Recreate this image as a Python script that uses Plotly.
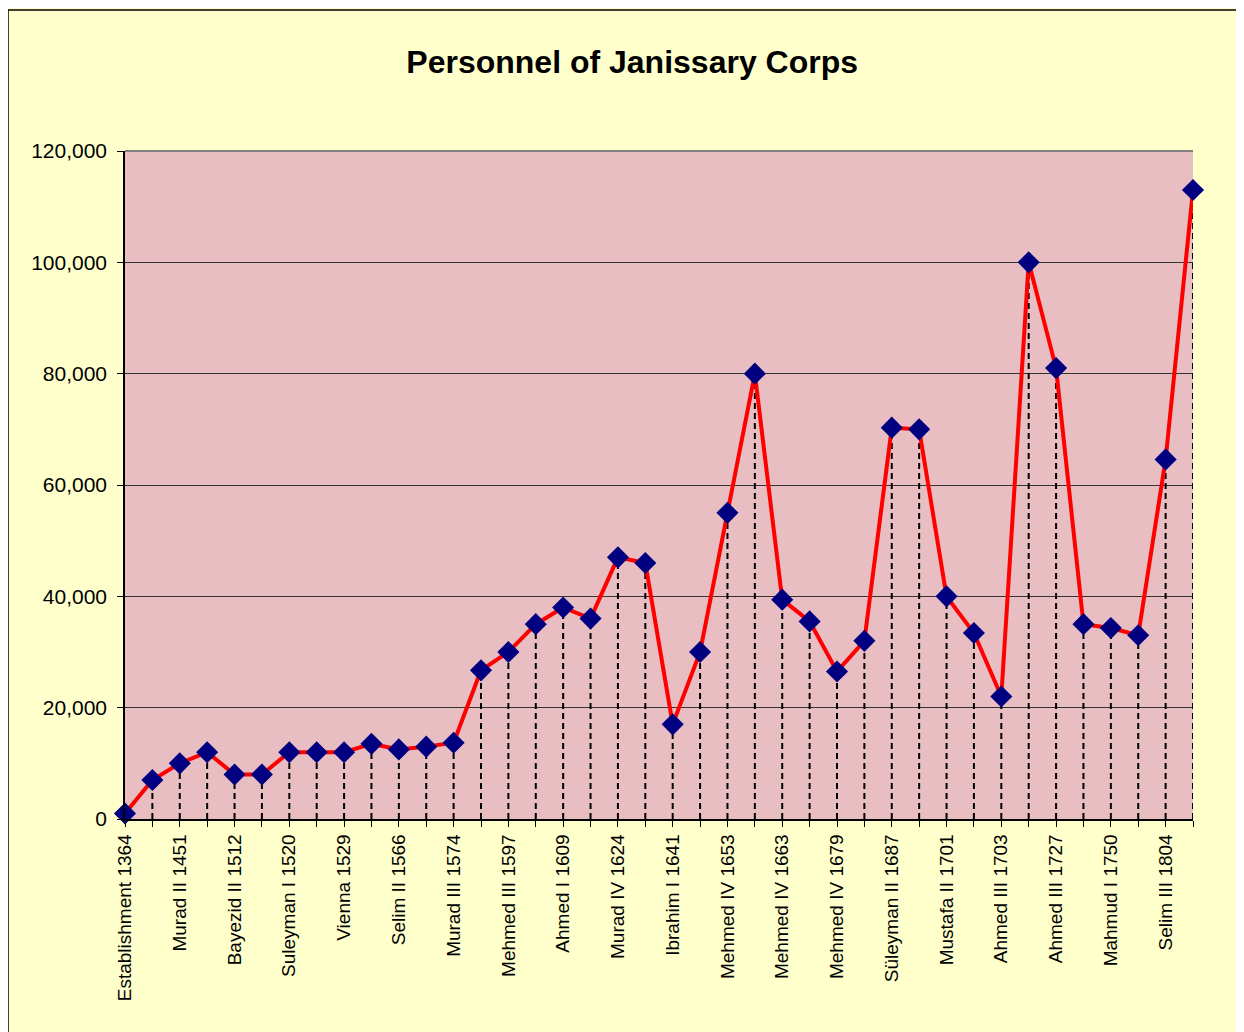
import plotly.graph_objects as go

tick_labels = [
    "Establishment 1364", "Murad II 1451", "Bayezid II 1512", "Suleyman I 1520",
    "Vienna 1529", "Selim II 1566", "Murad III 1574", "Mehmed III 1597",
    "Ahmed I 1609", "Murad IV 1624", "Ibrahim I 1641", "Mehmed IV 1653",
    "Mehmed IV 1663", "Mehmed IV 1679", "Süleyman II 1687", "Mustafa II 1701",
    "Ahmed III 1703", "Ahmed III 1727", "Mahmud I 1750", "Selim III 1804",
]

personnel = [
    1000, 7000, 10000, 12000, 8000, 8000, 12000, 12000, 12000, 13500,
    12500, 13000, 13700, 26700, 30000, 35000, 38000, 36000, 47000, 46000,
    17000, 30000, 55000, 80000, 39400, 35500, 26500, 32000, 70300, 70000,
    40000, 33400, 22000, 100000, 81000, 35000, 34300, 33000, 64600, 113000,
]

x_idx = list(range(len(personnel)))
ticktext = [tick_labels[i // 2] if i % 2 == 0 else "" for i in x_idx]

drop_x, drop_y = [], []
for xi, v in zip(x_idx, personnel):
    drop_x += [xi, xi, None]
    drop_y += [0, v, None]

W, H = 1236, 1024
L, R, T, B = 117, 51, 143, 213
pw, ph = W - L - R, H - T - B

fig = go.Figure()
fig.add_trace(go.Scatter(
    x=drop_x, y=drop_y, mode="lines",
    line=dict(color="black", width=2, dash="6px,4px"),
    hoverinfo="skip", showlegend=False,
))
fig.add_trace(go.Scatter(
    x=x_idx, y=personnel, mode="lines+markers",
    line=dict(color="#FF0000", width=4),
    marker=dict(symbol="diamond", size=17, color="#000080",
                line=dict(width=0)),
    cliponaxis=False, showlegend=False,
))

fig.update_layout(
    width=W, height=H,
    margin=dict(l=L, r=R, t=T, b=B),
    paper_bgcolor="#FFFFCC",
    plot_bgcolor="#E8BEC3",
    font=dict(family="Liberation Sans, Arial, sans-serif", color="black"),
    title=dict(
        text="<b>Personnel of Janissary Corps</b>",
        x=0.505, xanchor="center", y=1 - 54 / H, yanchor="middle",
        font=dict(family="Liberation Sans Narrow, Arial Narrow, Liberation Sans, Arial",
                  size=32, color="black"),
    ),
    xaxis=dict(
        range=[0, 39], tickmode="array", tickvals=x_idx, ticktext=ticktext,
        tickangle=-90, tickfont=dict(size=19), ticks="outside", ticklen=6,
        tickcolor="black", showline=True, linecolor="black", linewidth=1.5,
        showgrid=False, zeroline=False, mirror=False,
    ),
    yaxis=dict(
        range=[0, 120000], dtick=20000, tickformat=",d",
        tickfont=dict(size=21), ticks="outside", ticklen=6, tickcolor="black",
        ticklabelstandoff=6,
        showline=True, linecolor="black", linewidth=1.5,
        showgrid=True, gridcolor="#333333", gridwidth=1, zeroline=False,
    ),
    shapes=[
        dict(type="line", xref="paper", yref="paper", x0=0, x1=1, y0=1, y1=1,
             line=dict(color="#808080", width=2)),
        dict(type="rect", xref="paper", yref="paper",
             x0=(0 - L) / pw, x1=1.2, y0=-0.5, y1=(H - B - 2) / ph,
             line=dict(color="black", width=1.5), layer="below"),
    ],
)

fig.write_html("out.html")
